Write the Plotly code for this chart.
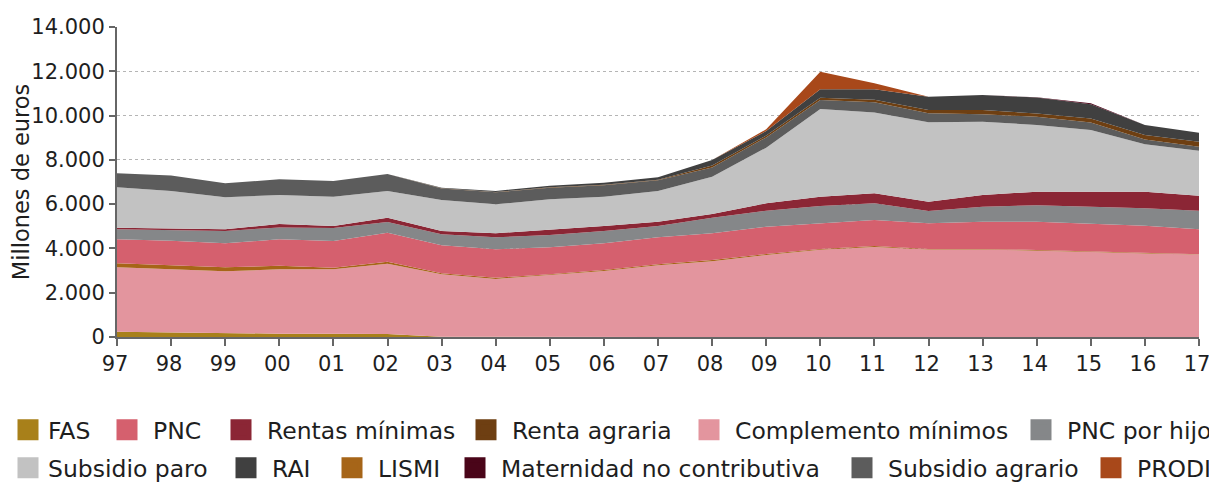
import plotly.graph_objects as go

years = ["97", "98", "99", "00", "01", "02", "03", "04", "05", "06", "07",
         "08", "09", "10", "11", "12", "13", "14", "15", "16", "17"]

fas = [240, 212, 150, 150, 150, 135, 10, 0, 0, 0, 0, 0, 0, 0, 0, 0, 0, 0, 0, 0, 0]
complemento = [2908, 2845, 2817, 2907, 2907, 3176, 2822, 2623, 2787, 2981, 3238,
               3417, 3704, 3944, 4070, 3954, 3954, 3909, 3838, 3768, 3723]
lismi = [180, 180, 180, 160, 75, 90, 45, 55, 45, 45, 45, 60, 45, 30, 35, 20, 20, 20, 15, 12, 12]
pnc = [1085, 1112, 1084, 1192, 1205, 1310, 1264, 1283, 1219, 1206, 1220,
       1206, 1234, 1160, 1184, 1160, 1233, 1278, 1281, 1247, 1129]
pnc_hijo = [452, 482, 555, 540, 588, 483, 495, 542, 555, 555, 510,
            705, 721, 782, 754, 556, 678, 741, 751, 785, 840]
rentas_minimas = [73, 77, 77, 151, 90, 194, 151, 180, 226, 226, 194,
                  167, 334, 420, 451, 420, 528, 614, 677, 750, 677]
subsidio_paro = [1823, 1685, 1445, 1310, 1323, 1206, 1400, 1310, 1387, 1323, 1387,
                 1685, 2512, 3962, 3642, 3587, 3312, 3013, 2787, 2141, 2033]
subsidio_agrario = [634, 706, 632, 709, 709, 767, 520, 540, 520, 520, 480,
                    420, 465, 405, 469, 405, 334, 370, 335, 222, 180]
renta_agraria = [0, 0, 0, 0, 0, 0, 10, 15, 20, 25, 30, 80, 80, 105, 105, 150, 190, 150, 180, 200, 225]
rai = [0, 0, 0, 0, 0, 0, 26, 46, 74, 90, 108, 254, 210, 376, 482, 600, 680, 720, 650, 450, 410]
maternidad = [0, 0, 0, 0, 0, 0, 0, 0, 0, 0, 0, 0, 0, 0, 0, 0, 0, 10, 40, 0, 0]
prodi = [0, 0, 0, 0, 0, 0, 0, 0, 0, 0, 0, 0, 75, 800, 270, 0, 0, 0, 0, 0, 0]

y_tick_vals = [0, 2000, 4000, 6000, 8000, 10000, 12000, 14000]
y_tick_text = ["0", "2.000", "4.000", "6.000", "8.000", "10.000", "12.000", "14.000"]

colors = {
    "FAS": "#a8801a",
    "PNC": "#d5606e",
    "Rentas mínimas": "#8b2635",
    "Renta agraria": "#6e3f12",
    "Complemento mínimos": "#e3959e",
    "PNC por hijo": "#858789",
    "Subsidio paro": "#c2c2c2",
    "RAI": "#404040",
    "LISMI": "#a66518",
    "Maternidad no contributiva": "#4a0519",
    "Subsidio agrario": "#5c5c5c",
    "PRODI": "#a8481a",
}

# stacking order, bottom to top
stack = [
    ("FAS", fas),
    ("Complemento mínimos", complemento),
    ("LISMI", lismi),
    ("PNC", pnc),
    ("PNC por hijo", pnc_hijo),
    ("Rentas mínimas", rentas_minimas),
    ("Subsidio paro", subsidio_paro),
    ("Subsidio agrario", subsidio_agrario),
    ("Renta agraria", renta_agraria),
    ("RAI", rai),
    ("Maternidad no contributiva", maternidad),
    ("PRODI", prodi),
]

# legend rows: names and text start x (page px)
legend_row1 = ["FAS", "PNC", "Rentas mínimas", "Renta agraria", "Complemento mínimos", "PNC por hijo"]
legend_row1_x = [47, 153, 267, 512, 735, 1072]
legend_row2 = ["Subsidio paro", "RAI", "LISMI", "Maternidad no contributiva", "Subsidio agrario", "PRODI"]
legend_row2_x = [47, 272, 378, 501, 888, 1142]

FONT = "DejaVu Sans"
TEXT = "#1e1e1e"
OFF = 8          # page offset of the figure
FIG_W, FIG_H = 1209, 475

fig = go.Figure()
for name, vals in stack:
    fig.add_trace(go.Scatter(
        x=years, y=vals, name=name, mode="lines", stackgroup="one",
        line=dict(width=0, color=colors[name]), fillcolor=colors[name],
        showlegend=False, hoverinfo="x+y+name",
    ))

legends = {}
k = 0
for row_names, row_x, row_y in ((legend_row1, legend_row1_x, 430), (legend_row2, legend_row2_x, 468)):
    n = len(row_names)
    for col, (name, tx) in enumerate(zip(row_names, row_x)):
        k += 1
        lg = "legend" if k == 1 else f"legend{k}"
        itemw = 30 if col == 0 else 42
        gap = itemw + 10
        fig.add_trace(go.Scatter(
            x=[None], y=[None], name=name, mode="markers",
            marker=dict(symbol="square", size=16, color=colors[name],
                        line=dict(width=6, color=colors[name])),
            legend=lg, showlegend=True,
        ))
        if col == n - 1:
            xpos, xanch = 1.0, "right"
        else:
            xpos, xanch = max(0.0, (tx - OFF - gap) / FIG_W), "left"
        legends[lg] = dict(
            orientation="h", xref="container", yref="container",
            x=xpos, xanchor=xanch,
            y=1 - (row_y - OFF) / FIG_H, yanchor="middle",
            font=dict(family=FONT, size=23.5, color=TEXT),
            bgcolor="rgba(0,0,0,0)", itemwidth=itemw,
        )

fig.update_layout(
    width=FIG_W, height=FIG_H,
    margin=dict(l=117 - OFF, r=FIG_W - (1199 - OFF), t=27 - OFF, b=FIG_H - (337 - OFF),
                autoexpand=False),
    paper_bgcolor="white", plot_bgcolor="white",
    font=dict(family=FONT, size=21, color=TEXT),
    xaxis=dict(
        type="category", range=[0, 20], showgrid=False,
        showline=True, linecolor="#666666", linewidth=2,
        ticks="outside", ticklen=7, tickwidth=2, tickcolor="#666666",
        tickfont=dict(family=FONT, size=21, color=TEXT), ticklabelshift=-2,
    ),
    yaxis=dict(
        range=[0, 14000], tickvals=y_tick_vals, ticktext=y_tick_text,
        showgrid=True, gridcolor="#b5b5b5", griddash="dot", gridwidth=1,
        showline=True, linecolor="#666666", linewidth=2,
        ticks="outside", ticklen=6, tickwidth=2, tickcolor="#666666",
        tickfont=dict(family=FONT, size=21, color=TEXT),
        zeroline=False,
        title=dict(text="Millones de euros", font=dict(family=FONT, size=22.5, color=TEXT), standoff=2),
    ),
    **legends,
)

fig.write_html("out.html")
